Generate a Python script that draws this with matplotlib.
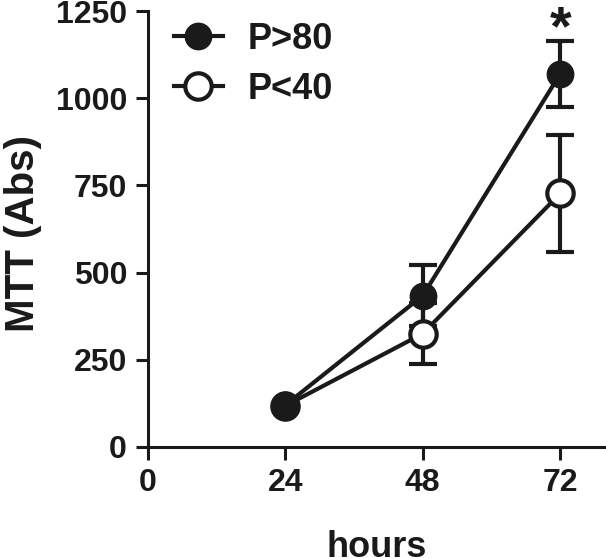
import matplotlib
matplotlib.use("Agg")
import matplotlib.pyplot as plt
from matplotlib.lines import Line2D

hours = [24, 48, 72]
p80_mean = [120, 434, 1070]
p80_err = [0, 88, 95]
p40_mean = [118, 325, 727]
p40_err = [0, 88, 168]
labels = ["P>80", "P<40"]
xticks = [0, 24, 48, 72]
yticks = [0, 250, 500, 750, 1000, 1250]

plt.rcParams['font.family'] = ['Liberation Sans', 'DejaVu Sans']
plt.rcParams['font.weight'] = 'bold'

fig = plt.figure(figsize=(6.06, 5.58), dpi=100)
ax = fig.add_axes([0.244, 0.199, 0.756, 0.781])

ink = '#1a1a1a'
lw = 3.0
ms = 19

# error bars (below markers)
ax.errorbar(hours, p80_mean, yerr=p80_err, fmt='none', ecolor=ink, elinewidth=lw,
            capsize=10, capthick=lw, zorder=1)
ax.errorbar(hours, p40_mean, yerr=p40_err, fmt='none', ecolor=ink, elinewidth=lw,
            capsize=10, capthick=lw, zorder=1)
# lines
ax.plot(hours, p80_mean, '-', color=ink, lw=lw, zorder=2)
ax.plot(hours, p40_mean, '-', color=ink, lw=lw, zorder=2)
# markers
ax.plot(hours, p40_mean, 'o', ms=ms, mfc='white', mec=ink, mew=3, linestyle='none', zorder=3)
ax.plot(hours, p80_mean, 'o', ms=ms, mfc=ink, mec=ink, mew=1, linestyle='none', zorder=4)

ax.text(72, 1155, '*', ha='center', va='baseline', fontsize=40, color=ink,
        fontweight='bold', clip_on=False)

ax.set_xlim(0, 80)
ax.set_ylim(0, 1250)
ax.set_xticks(xticks)
ax.set_yticks(yticks)
ax.tick_params(axis='both', direction='out', length=9, width=2.2, colors=ink,
               labelsize=23, pad=6)
for lab in ax.get_xticklabels() + ax.get_yticklabels():
    lab.set_fontweight('bold')

for s in ['top', 'right']:
    ax.spines[s].set_visible(False)
for s in ['left', 'bottom']:
    ax.spines[s].set_linewidth(2.2)
    ax.spines[s].set_color(ink)

ax.set_ylabel('MTT (Abs)', fontsize=29, fontweight='bold', color=ink)
ax.yaxis.set_label_coords(-0.231, 0.49)
ax.set_xlabel('hours', fontsize=26, fontweight='bold', color=ink, va='top')
ax.xaxis.set_label_coords(0.5, -0.19)

handles = [
    Line2D([0], [0], color=ink, lw=lw, marker='o', ms=ms, mfc=ink, mec=ink),
    Line2D([0], [0], color=ink, lw=lw, marker='o', ms=ms, mfc='white', mec=ink, mew=3),
]
leg = ax.legend(handles, labels, loc='upper left', bbox_to_anchor=(0.025, 1.008),
                frameon=False, fontsize=26, handlelength=1.35, handletextpad=0.7,
                labelspacing=0.4, borderaxespad=0.0)
for t in leg.get_texts():
    t.set_fontweight('bold')
    t.set_color(ink)

fig.savefig('out.png', dpi=100)
